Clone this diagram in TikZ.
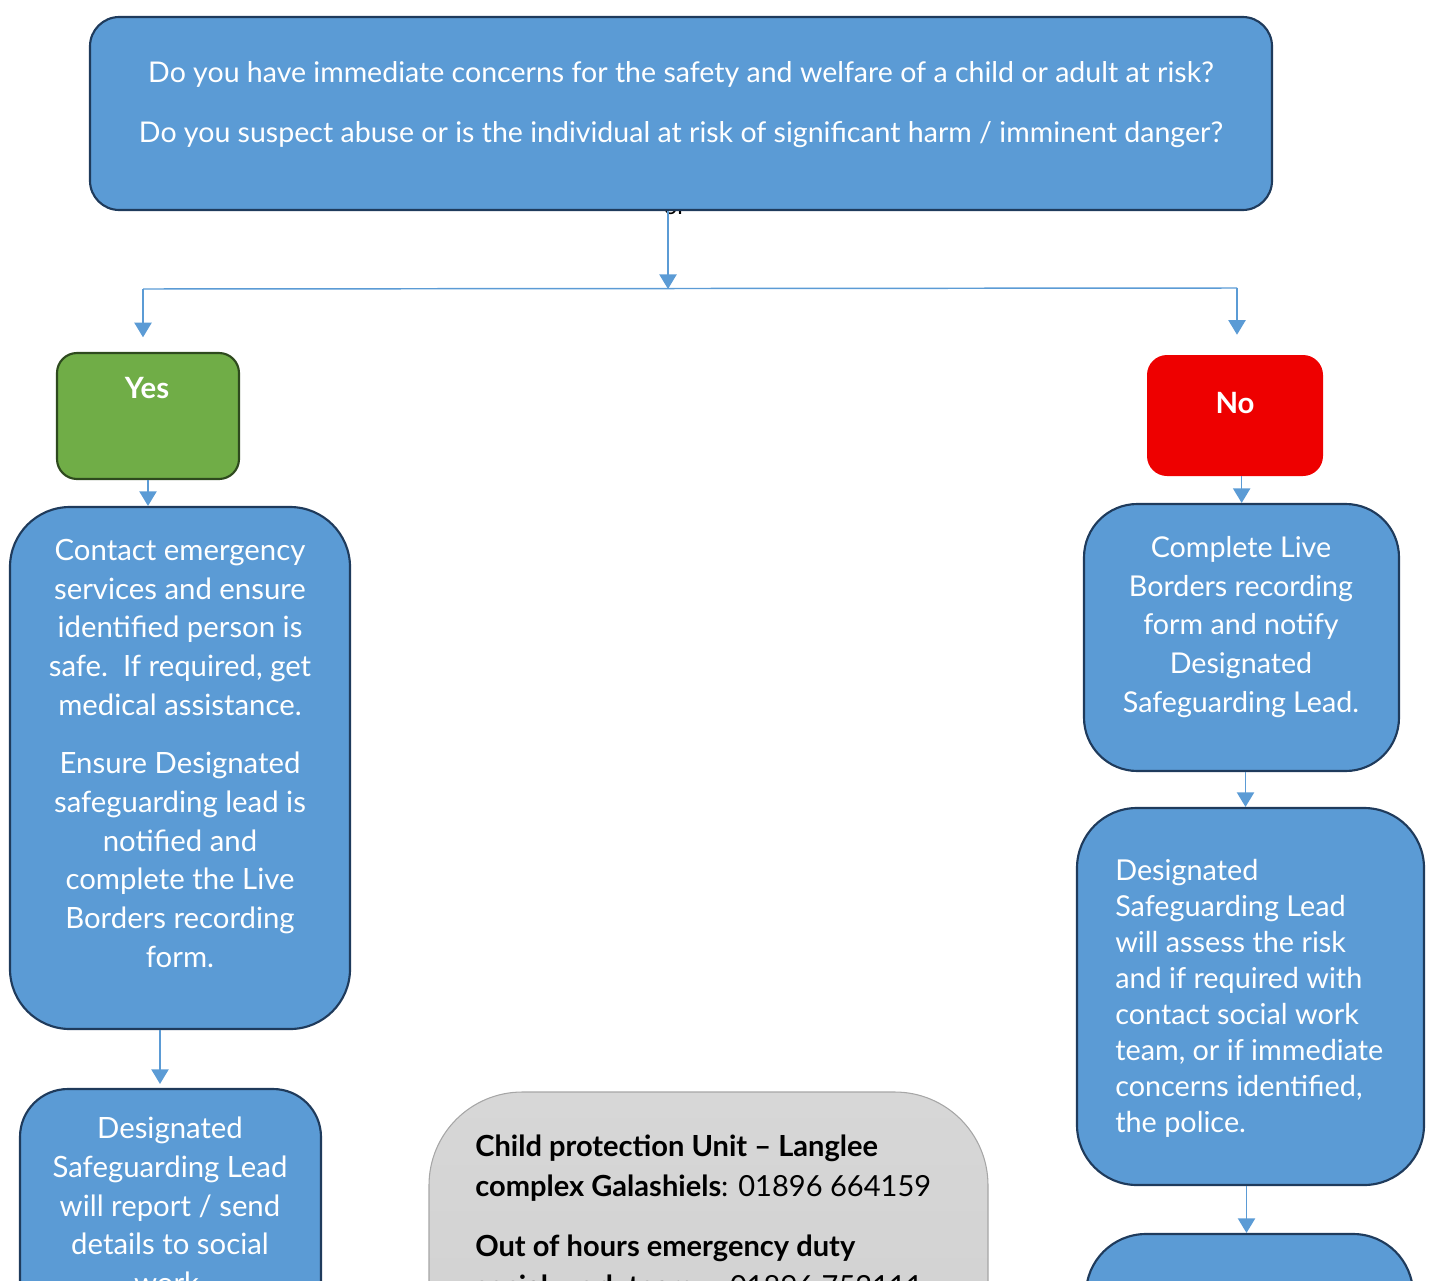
\documentclass[tikz,border=0pt]{standalone}
\usepackage{fontspec}
\setmainfont{Lato}
\usetikzlibrary{arrows.meta,fit,positioning}

\definecolor{boxblue}{HTML}{5B9BD5}
\definecolor{boxedge}{HTML}{1F3B5C}
\definecolor{yesgreen}{HTML}{70AD47}
\definecolor{yesedge}{HTML}{2E4A1E}
\definecolor{nored}{HTML}{EE0000}
\definecolor{infogray}{HTML}{D0D0D0}
\definecolor{infoedge}{HTML}{A6A6A6}

\tikzset{
  stepbox/.style={draw=boxedge, fill=boxblue, line width=1.6pt, inner sep=0pt},
  yesbox/.style={draw=yesedge, fill=yesgreen, line width=1.6pt, inner sep=0pt, rounded corners=15pt},
  nobox/.style={fill=nored, inner sep=0pt, rounded corners=15pt},
  infobox/.style={draw=infoedge, top color=infogray!85!white, bottom color=infogray, line width=0.8pt, inner sep=0pt, rounded corners=70pt},
  link/.style={draw=boxblue, line width=1.1pt, -{Triangle[width=13pt,length=11pt]}},
  wire/.style={draw=boxblue, line width=1.1pt},
  boxtext/.style={text=white, inner sep=0pt, align=center,
    font=\fontsize{22pt}{29pt}\selectfont},
}

\begin{document}
\begin{tikzpicture}[x=0.75pt, y=-0.75pt]
  \useasboundingbox (0,0) rectangle (1431,1281);
  \clip (0,0) rectangle (1431,1281);

  % stray word behind the question box
  \node[font=\fontsize{18pt}{20pt}\selectfont, anchor=base, inner sep=0pt] (stray) at (675,214) {or};

  % question
  \node[stepbox, rounded corners=22pt, fit={(90,17) (1272,210)}] (ask) {};
  \node[boxtext, anchor=north, font=\fontsize{21.4pt}{45pt}\selectfont] (asktxt) at (681,61)
    {Do you have immediate concerns for the safety and welfare of a child or adult at risk?\\
     Do you suspect abuse or is the individual at risk of significant harm / imminent danger?};

  % answers
  \node[yesbox, fit={(57,353) (239,479)}] (yes) {};
  \node[boxtext, font=\fontsize{22pt}{24pt}\bfseries] (yestxt) at (147,388) {Yes};
  \node[nobox, fit={(1147,355) (1323,476)}] (no) {};
  \node[boxtext, font=\fontsize{22pt}{24pt}\bfseries] (notxt) at (1235,403) {No};

  % yes branch
  \node[stepbox, rounded corners=45pt, fit={(10,507) (350,1029)}] (act) {};
  \node[boxtext, anchor=north] (acttxt) at (180,539)
    {Contact emergency\\ services and ensure\\ identified person is\\ safe.\ \ If required, get\\ medical assistance.\\[15pt]
     Ensure Designated\\ safeguarding lead is\\ notified and\\ complete the Live\\ Borders recording\\ form.};
  \node[stepbox, rounded corners=36pt, fit={(20,1089) (321,1420)}] (report) {};
  \node[boxtext, anchor=north] (reporttxt) at (170,1117)
    {Designated\\ Safeguarding Lead\\ will report / send\\ details to social\\ work.};

  % contacts
  \node[infobox, fit={(429,1092) (988,1420)}] (info) {};
  \node[inner sep=0pt, align=left, anchor=north west, font=\fontsize{21.8pt}{30pt}\selectfont] (infotxt) at (475,1135)
    {\textbf{Child protection Unit – Langlee}\\ \textbf{complex Galashiels}: 01896 664159\\[15pt]
     \textbf{Out of hours emergency duty}\\ \textbf{social work team}:\quad 01896 752111};

  % no branch
  \node[stepbox, rounded corners=40pt, fit={(1084,504) (1399,771)}] (form) {};
  \node[boxtext, anchor=north, font=\fontsize{21.5pt}{29pt}\selectfont] (formtxt) at (1241,536)
    {Complete Live\\ Borders recording\\ form and notify\\ Designated\\ Safeguarding Lead.};
  \node[stepbox, rounded corners=45pt, fit={(1077,808) (1424,1185)}] (assess) {};
  \node[boxtext, anchor=north west, align=left, font=\fontsize{21.6pt}{27pt}\selectfont] (assesstxt) at (1115,859)
    {Designated\\ Safeguarding Lead\\ will assess the risk\\ and if required with\\ contact social work\\ team, or if immediate\\ concerns identified,\\ the police.};
  \node[stepbox, rounded corners=45pt, fit={(1086,1234) (1413,1420)}] (next) {};

  % connectors
  \coordinate (split) at (668,289);
  \coordinate (lsplit) at (143,289);
  \coordinate (rsplit) at (1237,288);
  \draw[link] (ask.south -| split) -- (split);
  \draw[wire] (lsplit) -- (rsplit);
  \draw[link, shorten >=11pt] (lsplit) -- (lsplit |- yes.north);
  \draw[link, shorten >=15pt] (rsplit) -- (rsplit |- no.north);
  \draw[link] (yes.south) -- (yes.south |- act.north);
  \draw[link, shorten >=3pt] ([xshift=-15pt]act.south) -- ([xshift=-15pt]act.south |- report.north);
  \draw[link] ([xshift=5pt]no.south) -- ([xshift=5pt]no.south |- form.north);
  \draw[link] ([xshift=3pt]form.south) -- ([xshift=3pt]form.south |- assess.north);
  \draw[link] ([xshift=-3pt]assess.south) -- ([xshift=-3pt]assess.south |- next.north);
\end{tikzpicture}
\end{document}
